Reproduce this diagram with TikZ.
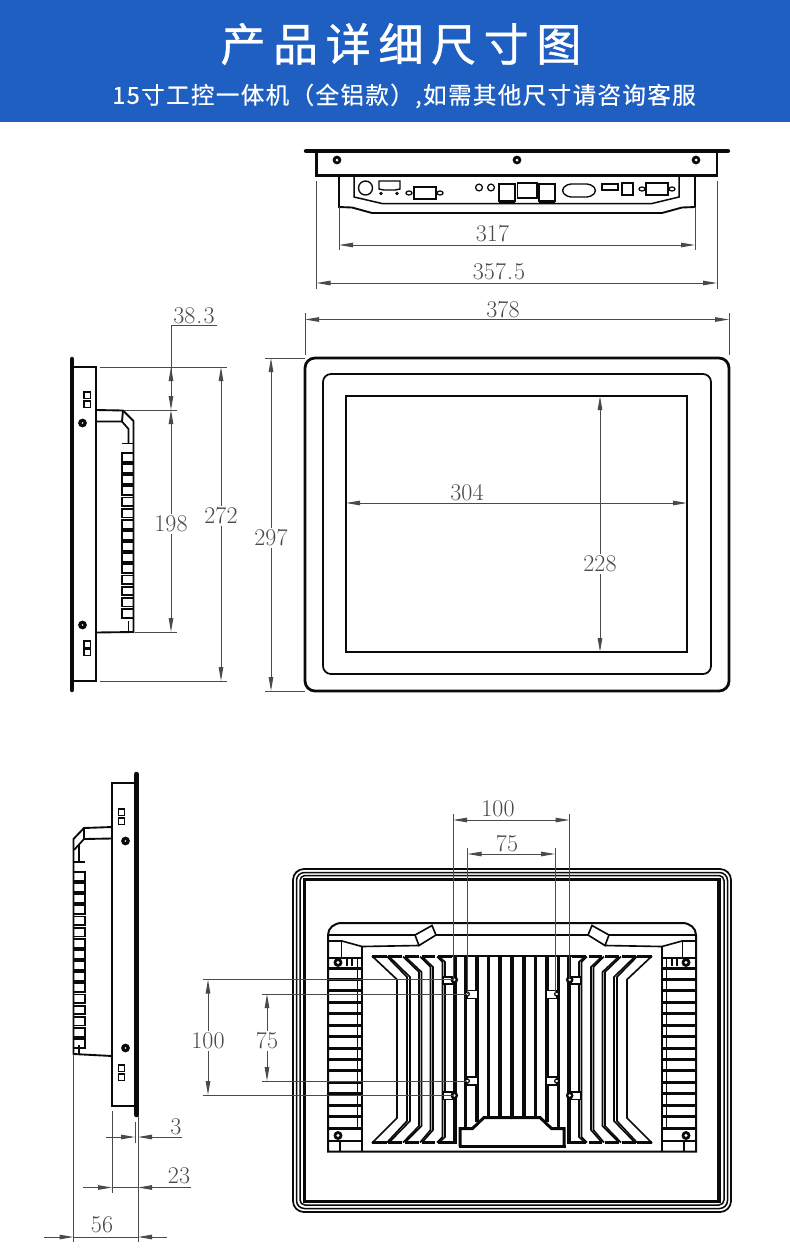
\documentclass[tikz,border=0pt]{standalone}
\usepackage{fontspec}
\usetikzlibrary{arrows.meta}
\newfontfamily\cjktitle[LetterSpace=17,BoldFont={Noto Sans CJK SC},BoldFeatures={FakeBold=0.9}]{Noto Sans CJK SC}
\newfontfamily\cjksub[LetterSpace=6,BoldFont={Noto Sans CJK SC},BoldFeatures={FakeBold=0.5}]{Noto Sans CJK SC}
\definecolor{headblue}{HTML}{1F5FC1}
\definecolor{dimgrey}{HTML}{4A4A4A}
\definecolor{inkc}{HTML}{0A0A0A}
\tikzset{
  dtip/.tip={Stealth[length=14pt,width=4.5pt,inset=0pt]},
  ink/.style={draw=inkc,line width={1.25*#1},line join=miter},
  ink/.default=1.5pt,
  extl/.style={draw=dimgrey,line width=1pt},
  dimln/.style={draw=dimgrey,line width=1pt,dtip-dtip},
  dimend/.style={draw=dimgrey,line width=1pt,-dtip},
  dimtxt/.style={text=dimgrey,font=\fontsize{24}{24}\selectfont,inner sep=1pt},
  dimbg/.style={dimtxt,fill=white,inner sep=2pt},
  screwd/.style={fill=inkc,draw=none},
  holew/.style={fill=white,draw=none},
}
\begin{document}
\begin{tikzpicture}[x=1pt,y=-1pt]
\useasboundingbox (0,0) rectangle (790,1259);
\fill[white] (0,0) rectangle (790,1259);
\fill[headblue] (0,0) rectangle (790,122);
\node[text=white,font=\cjktitle\bfseries\fontsize{45}{50}\selectfont,inner sep=0] (title) at (401,44) {产品详细尺寸图};
\node[text=white,font=\cjksub\bfseries\fontsize{23.5}{26}\selectfont,inner sep=0] (subtitle) at (404,96) {15寸工控一体机（全铝款）,如需其他尺寸请咨询客服};

% ---------- top view ----------
\draw[ink=3.4pt,line cap=round] (306,151) -- (728,151);
\draw[ink=2pt] (316.5,151) -- (316.5,175.5) -- (717,175.5) -- (717,151);
\foreach \sx in {337,517,696}{
  \fill[screwd] (\sx,160) circle (4.4pt);
  \fill[holew] (\sx,160) circle (1.5pt);
}
\draw[ink=1.5pt] (339,176) -- (339,207) -- (352,207.5) -- (372,213) -- (662,213) -- (682,207.5) -- (695,207) -- (695,176);
\draw[ink=1.2pt] (354,176) -- (354,197) -- (382,203.5) -- (652,203.5) -- (679,197) -- (679,176);
\draw[ink=1.1pt] (365.5,188) circle (7pt);
\draw[ink=1.1pt] (379,181) -- (400,181) -- (400,189) -- (395,190) -- (384,190) -- (379,189) -- cycle;
\fill[screwd] (381,193.5) circle (1.8pt) (397,193.5) circle (1.8pt);
\draw[ink=1.1pt] (414,187) rectangle (436,199);
\draw[ink=1pt] (409,193) ellipse (3pt and 2pt) (440,193) ellipse (3pt and 2pt);
\draw[ink=1pt] (479,187.5) circle (3.4pt) (491,187.5) circle (3.4pt);
\draw[ink=1.1pt] (499,184) rectangle (515,201);
\draw[ink=1.6pt] (499,201.5) -- (515,201.5);
\draw[ink=1.1pt] (517.5,183) rectangle (537,198);
\draw[ink=1.1pt] (539,184) rectangle (555,201);
\draw[ink=1.6pt] (539,201.5) -- (555,201.5);
\draw[ink=1.1pt,rounded corners=4pt] (561,190.5) -- (567,184) -- (591,184) -- (597,190.5) -- (591,197) -- (567,197) -- cycle;
\draw[ink=1.1pt] (602,184) rectangle (618,190);
\draw[ink=1.1pt] (622,183) rectangle (633,195);
\draw[ink=1.1pt] (646,183) rectangle (668,195);
\draw[ink=1pt] (642,189) ellipse (3pt and 2pt) (672,189) ellipse (3pt and 2pt);
% dims top
\draw[extl] (339,207) -- (339,250) (695,207) -- (695,250);
\draw[dimln] (339,245) -- (695,245);
\node[dimtxt] (d317) at (492.5,234) {317};
\draw[extl] (316.5,181) -- (316.5,289) (717,181) -- (717,289);
\draw[dimln] (316.5,283) -- (717,283);
\node[dimtxt] (d3575) at (499,272) {357\kern1pt.\kern1pt 5};
\draw[extl] (305,313) -- (305,355) (729,313) -- (729,355);
\draw[dimln] (305,319.5) -- (729,319.5);
\node[dimtxt] (d378) at (503,310) {378};

% ---------- front view ----------
\draw[ink=2.2pt,rounded corners=10pt] (305,358) rectangle (729,691);
\draw[ink=1.4pt,rounded corners=8pt] (323,374) rectangle (711,674);
\draw[ink=1.4pt] (346,396) rectangle (687,652);
\draw[dimln] (346,503) -- (687,503);
\node[dimtxt] (d304) at (467,493) {304};
\draw[dimln] (600,396) -- (600,652);
\node[dimbg] (d228) at (600,564) {228};
\draw[extl] (265,358) -- (305,358) (265,691) -- (305,691);
\draw[dimln] (271,358) -- (271,691);
\node[dimbg] (d297) at (271,538) {297};

% ---------- left side view ----------
\draw[ink=3.6pt,line cap=round] (72,359) -- (72,690);
\draw[ink=2.2pt] (72,367) -- (96,367) -- (96,681) -- (72,681);
\foreach \qy in {392,401,641,649}{ \draw[ink=1.5pt] (84,\qy) rectangle (90.5,\qy+6.5); }
\foreach \sy in {423,625}{
  \fill[screwd] (82.5,\sy) circle (4.4pt);
  \fill[holew] (82.5,\sy) circle (0.8pt);
}
\draw[ink=1.5pt] (96,410) -- (123,410.5) -- (133.5,421) -- (133.5,632) -- (96,632.5);
\draw[ink=1.5pt] (96,421.5) -- (122,421.5) -- (123,410.5);
\draw[ink=1.4pt] (122,421.5) -- (128.5,429) -- (128.5,443);
\draw[ink=1.4pt] (122,443.5) -- (133,443.5);
\foreach \i in {0,...,14}{
  \pgfmathsetmacro{\fy}{453+11.13*\i}
  \draw[ink=1.5pt] (122,\fy) rectangle (133.5,\fy+8.8);
}
\draw[ink=1.2pt] (128.5,621) -- (128.5,632);
% dims left
\draw[extl] (100,367) -- (227,367) (124,410) -- (177,410) (135,632) -- (177,632) (100,681) -- (227,681);
\draw[extl] (171,325) -- (217,325);
\draw[extl] (171,325) -- (171,367);
\draw[dimend] (171,381) -- (171,367);
\draw[dimend] (171,396) -- (171,410);
\draw[dimln] (171,410) -- (171,632);
\draw[extl] (171,367) -- (171,396);
\node[dimtxt] (d383) at (194,316) {38\kern1pt.\kern1pt 3};
\node[dimbg] (d198) at (171,524) {198};
\draw[dimln] (221,367) -- (221,681);
\node[dimbg] (d272) at (221,516) {272};

% ---------- lower side view ----------
\draw[ink=3.6pt,line cap=round] (136.5,774) -- (136.5,1115);
\draw[ink=2.2pt] (136.5,783) -- (112,783) -- (112,1106) -- (136.5,1106);
\foreach \qy in {809,818,1065,1074}{ \draw[ink=1.5pt] (118.5,\qy) rectangle (124.5,\qy+6.5); }
\foreach \sy in {841,1048}{
  \fill[screwd] (125.5,\sy) circle (4.4pt);
  \fill[holew] (125.5,\sy) circle (0.8pt);
}
\draw[ink=1.5pt] (112,827) -- (84,828) -- (73.5,839) -- (73.5,1054) -- (112,1056);
\draw[ink=1.5pt] (112,838.5) -- (84,839) -- (84,828);
\draw[ink=1.4pt] (84,839) -- (74,850);
\draw[ink=1.2pt] (79,845) -- (79,861.5);
\draw[ink=1.4pt] (74,862) -- (85,862);
\foreach \i in {0,...,15}{
  \pgfmathsetmacro{\fy}{872+11.13*\i}
  \draw[ink=1.5pt] (73.5,\fy) rectangle (85,\fy+8.8);
}
\draw[ink=1.2pt] (79,1045) -- (79,1054);
% dims lower side
\draw[extl] (135,1122) -- (135,1143) (138,1116) -- (138,1242) (112,1111) -- (112,1193) (73.5,1054) -- (73.5,1242);
\draw[extl] (106,1137) -- (121,1137);
\draw[dimend] (120,1137) -- (135,1137);
\draw[dimend] (182,1137) -- (138,1137);
\node[dimtxt] (d3) at (176,1127) {3};
\draw[dimend] (83,1187.5) -- (112,1187.5);
\draw[dimend] (191,1187.5) -- (138,1187.5);
\draw[extl] (112,1187.5) -- (138,1187.5);
\node[dimtxt] (d23) at (179,1176) {23};
\draw[dimend] (44,1237) -- (73.5,1237);
\draw[dimend] (167,1237) -- (138,1237);
\draw[extl] (73.5,1237) -- (138,1237);
\node[dimtxt] (d56) at (102,1225) {56};

% ---------- back view ----------
\draw[ink=1.4pt,rounded corners=11pt] (293,869) rectangle (731,1212);
\draw[ink=1.2pt,rounded corners=8pt] (296.5,872.5) rectangle (727.5,1208.5);
\draw[ink=1.2pt,rounded corners=5pt] (300,875.5) rectangle (724,1205);
\draw[ink=2.6pt] (304.5,879.5) rectangle (719,1201.5);
% enclosure
\draw[ink=1.6pt] (328,1151.5) -- (328,935) .. controls (328,928) and (334,923) .. (342,923) -- (682,923) .. controls (690,923) and (696,928) .. (696,935) -- (696,1151.5) -- cycle;
\draw[ink=1.3pt] (328,935) -- (415,935);
\draw[ink=1.3pt] (436,935) -- (588,935);
\draw[ink=1.3pt] (609,935) -- (696,935);
% top and bottom rails of the fin block
\draw[ink=2.1pt] (450,955.8) -- (574,955.8);
% half details, drawn twice
\foreach \sh/\sc in {0/1,1024/-1}{
\begin{scope}[shift={(\sh pt,0pt)},xscale=\sc]
  \draw[ink=1.3pt,fill=white] (415,935) -- (432,925.5) -- (436,935) -- (419,945.5) -- cycle;
  \draw[ink=1.3pt] (419,945.5) -- (362,946.5) -- (342,941) -- (328,941);
  \draw[ink=1.2pt] (341.5,941) -- (341.5,958);
  \draw[ink=1.5pt] (362,946.5) -- (362,1151);
  \draw[ink=1.4pt] (357.5,958) -- (357.5,1128);
  \draw[ink=1.4pt] (329,958) -- (362,958);
  \draw[ink=1.1pt] (347,958) -- (347,966) (352,958) -- (352,966);
  \fill[screwd] (338,962.5) circle (4.5pt);
  \fill[holew] (338,962.5) circle (1.6pt);
  \foreach \i in {0,...,14}{
    \pgfmathsetmacro{\fy}{968+11.43*\i}
    \draw[ink=2.4pt] (329,\fy) -- (362,\fy);
  }
  \draw[ink=1.1pt] (329,1141) -- (362,1141);
  \draw[ink=1.1pt] (340,1141) -- (340,1151);
  \fill[screwd] (338,1135.5) circle (4.5pt);
  \fill[holew] (338,1135.5) circle (1.6pt);
  % slanted fins
  \draw[ink=1.3pt] (372,956) -- (397,979.5) -- (397,1118) -- (372,1143);
  \draw[ink=2.2pt] (372,956.5) -- (387,956.5);
  \draw[ink=2.2pt] (372,1142.5) -- (387,1142.5);
  \draw[ink=1.3pt] (387,956.5) -- (407,977) -- (407,1121) -- (387,1142.5);
  \draw[ink=1.3pt] (389,956.5) -- (410,977) -- (410,1121) -- (389,1142.5);
  \draw[ink=2.2pt] (388,956.5) -- (402,956.5);
  \draw[ink=2.2pt] (388,1142.5) -- (402,1142.5);
  \draw[ink=1.3pt] (403,956.5) -- (419,972) -- (419,1126) -- (403,1142.5);
  \draw[ink=1.3pt] (405,956.5) -- (421.5,972) -- (421.5,1126) -- (405,1142.5);
  \draw[ink=2.2pt] (405,956.5) -- (419,956.5);
  \draw[ink=2.2pt] (405,1142.5) -- (419,1142.5);
  \draw[ink=1.3pt] (420,956.5) -- (430.5,967) -- (430.5,1130) -- (420,1142.5);
  \draw[ink=1.3pt] (422,956.5) -- (433,967) -- (433,1130) -- (422,1142.5);
  \draw[ink=2.2pt] (422,956.5) -- (435,956.5);
  \draw[ink=2.2pt] (422,1142.5) -- (435,1142.5);
  \draw[ink=1.3pt] (437,956.5) -- (442.5,962) -- (442.5,1137) -- (437,1142.5);
  \draw[ink=1.3pt] (439,956.5) -- (445,962) -- (445,1137) -- (439,1142.5);
  \draw[ink=2.2pt] (438,956.5) -- (452,956.5);
  \draw[ink=2.2pt] (438,1142.5) -- (457,1142.5);
  % straight fins
  \draw[ink=3.2pt] (454.7,955.5) -- (454.7,1143.5);
  \draw[ink=3pt] (465.5,955.5) -- (465.5,1129);
  \draw[ink=3pt] (477,955.5) -- (477,1122);
  \draw[ink=3pt] (488.6,955.5) -- (488.6,1118);
  \draw[ink=3pt] (500.2,955.5) -- (500.2,1118);
  % VESA tabs
  \draw[ink=1.1pt,fill=white] (443.3,977) rectangle (453,984);
  \draw[ink=1.1pt,fill=white] (443.3,1092) rectangle (453,1099.5);
  \fill[screwd] (454.3,979.7) circle (3.8pt);
  \fill[holew] (454.3,979.7) circle (1.4pt);
  \fill[screwd] (454.3,1095.5) circle (3.8pt);
  \fill[holew] (454.3,1095.5) circle (1.4pt);
  \draw[ink=1.1pt,fill=white] (467,990.5) rectangle (477.5,998.3);
  \draw[ink=1.1pt,fill=white] (467,1077) rectangle (477.5,1085);
  \draw[ink=1pt,fill=white] (467.3,994) circle (2pt);
  \draw[ink=1pt,fill=white] (467.3,1081) circle (2pt);
  % bottom tab
  \fill[white] (460,1146.7) -- (460,1129) -- (472.5,1129) -- (484,1118) -- (512,1118) -- (512,1146.7) -- cycle;
  \draw[ink=2.4pt] (460,1146.7) -- (460,1128.5) -- (472.5,1128.5) -- (484,1117.5) -- (513,1117.5);
\end{scope}
}
\draw[ink=3pt] (512,955.5) -- (512,1116);
\draw[ink=2.4pt] (458.5,1146.7) -- (565.5,1146.7);
% dims back
\draw[extl] (453,814) -- (453,979) (569.5,814) -- (569.5,979);
\draw[dimln] (453,820) -- (569.5,820);
\node[dimtxt] (d100h) at (498,809) {100};
\draw[extl] (467.5,848) -- (467.5,994) (555,848) -- (555,994);
\draw[dimln] (467.5,854) -- (555,854);
\node[dimtxt] (d75h) at (507,844) {75};
\draw[extl] (203,979.5) -- (454,979.5) (203,1095) -- (454,1095);
\draw[dimln] (208,979.5) -- (208,1095);
\node[dimbg] (d100v) at (208,1041) {100};
\draw[extl] (262,994) -- (467,994) (262,1081) -- (467,1081);
\draw[dimln] (267,994) -- (267,1081);
\node[dimbg] (d75v) at (267,1041) {75};
\end{tikzpicture}
\end{document}
